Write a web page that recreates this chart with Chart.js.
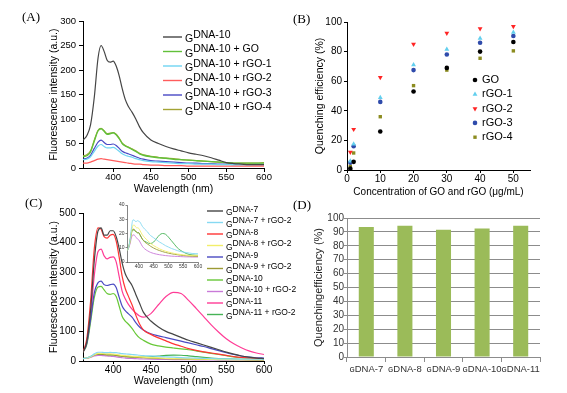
<!DOCTYPE html>
<html lang="en">
<head>
<meta charset="UTF-8">
<title>GDNA fluorescence quenching</title>
<script src="https://cdn.jsdelivr.net/npm/chart.js"></script>
<style>
  body { margin: 0; background: #fff; }
  #wrap { position: relative; width: 567px; height: 393px; overflow: hidden; }
  canvas { position: absolute; }
  .tag { position: absolute; font-family: "Liberation Serif", "Times New Roman", serif; font-size: 13px; color: #000; line-height: 16px; }
</style>
</head>
<body>
<div id="wrap">
  <canvas id="chartA" width="285" height="195" style="left:0px;top:0px"></canvas>
  <canvas id="chartB" width="282" height="198" style="left:285px;top:0px"></canvas>
  <canvas id="chartC" width="300" height="198" style="left:0px;top:195px"></canvas>
  <canvas id="chartD" width="282" height="198" style="left:285px;top:195px"></canvas>
  <canvas id="chartInset" width="100" height="80" style="left:105px;top:198px"></canvas>
  <div class="tag" style="left:22px;top:9px">(A)</div>
  <div class="tag" style="left:293px;top:11px">(B)</div>
  <div class="tag" style="left:25px;top:195px">(C)</div>
  <div class="tag" style="left:293px;top:197px">(D)</div>
</div>

<script>
    // ---- data ----
    var wl = [360, 365, 370, 375, 380, 384, 388, 392, 396, 400, 404, 408, 412, 416, 420, 425, 430, 435, 440, 450, 460, 470, 480, 490, 500, 510, 520, 530, 540, 550, 560, 570, 580, 590, 600];
    var nmTicks = [400, 450, 500, 550, 600];

    // panel A: GDNA-10 with GO / rGO
    var aLabels = ['GDNA-10', 'GDNA-10 + GO', 'GDNA-10 + rGO-1', 'GDNA-10 + rGO-2', 'GDNA-10 + rGO-3', 'GDNA-10 + rGO-4'];
    var aG10 = [57, 66, 88, 145, 225, 250, 238, 220, 216, 218, 208, 188, 162, 140, 126, 114, 100, 84, 72, 57, 50, 44, 39, 35, 31, 28, 25, 21, 16, 11, 9, 8, 7, 7, 7];
    var aGO  = [23, 25, 33, 55, 76, 80, 75, 69, 70, 72, 68, 60, 50, 45, 42, 38, 34, 29, 26, 23, 21, 20, 18, 17, 16, 15, 14, 13, 12, 11, 10, 10, 10, 10, 10];
    var aR1  = [17, 18, 23, 34, 45, 48, 44, 41, 41, 42, 39, 34, 29, 26, 24, 22, 19, 17, 15, 13, 12, 11, 10, 9, 9, 8, 8, 8, 7, 7, 7, 7, 7, 8, 8];
    var aR2  = [10, 10, 12, 15, 18, 19, 18, 17, 16, 15, 14, 13, 12, 11, 10, 9, 8, 8, 7, 6, 6, 5, 5, 5, 4, 4, 4, 4, 4, 4, 4, 4, 4, 4, 4];
    var aR3  = [18, 20, 26, 40, 53, 57, 52, 48, 48, 49, 46, 40, 34, 31, 29, 26, 23, 20, 18, 15, 14, 13, 12, 11, 10, 10, 9, 9, 8, 8, 7, 7, 7, 7, 7];
    var aR4  = [25, 27, 35, 57, 77, 81, 76, 70, 71, 72, 69, 61, 51, 46, 43, 39, 35, 30, 27, 24, 22, 20, 19, 17, 16, 15, 14, 13, 12, 11, 10, 10, 10, 10, 11];
    var aColors = ['#454545', '#62c03a', '#6fd4f2', '#ff5c5c', '#4848c4', '#a3a334'];

    // panel B: quenching efficiency vs concentration
    var bConc = [1, 2, 10, 20, 30, 40, 50];
    var bLabels = ['GO', 'rGO-1', 'rGO-2', 'rGO-3', 'rGO-4'];
    var bGO = [1, 5.5, 26, 53, 69, 80, 86.5];
    var bR1 = [6, 17.5, 49, 71, 81.5, 89, 93];
    var bR2 = [12, 27.5, 62.5, 85, 92.5, 95.5, 97];
    var bR3 = [5, 16, 46, 67.5, 78, 86, 90.5];
    var bR4 = [2.5, 11.5, 36, 57, 67.5, 75.5, 80.5];
    var bColors = ['#000000', '#62cfee', '#ff2424', '#2f4bab', '#8c8c20'];
    var concTicks = [0, 10, 20, 30, 40, 50];

    // panel C: GDNA-7..11 with and without rGO-2
    var cLabels = ['GDNA-7', 'GDNA-7 + rGO-2', 'GDNA-8', 'GDNA-8 + rGO-2', 'GDNA-9', 'GDNA-9 + rGO-2', 'GDNA-10', 'GDNA-10 + rGO-2', 'GDNA-11', 'GDNA-11 + rGO-2'];
    var cG7   = [30, 65, 170, 340, 440, 450, 425, 425, 440, 440, 420, 380, 330, 295, 275, 255, 225, 195, 165, 135, 115, 100, 90, 80, 70, 62, 54, 46, 38, 30, 23, 17, 13, 10, 8];
    var cG7r  = [8, 10, 15, 24, 29.5, 29.5, 28.5, 28.5, 29, 28.5, 28, 26.5, 25, 24, 23, 22, 21, 19.5, 18.5, 17, 15.5, 14, 12.8, 11.5, 10.5, 9.5, 8.8, 8, 7.4, 7, 6.6, 6.3, 6, 5.9, 5.8];
    var cG8   = [30, 75, 200, 380, 450, 445, 420, 415, 425, 428, 405, 350, 285, 245, 220, 190, 155, 125, 105, 90, 78, 68, 58, 50, 42, 36, 31, 27, 23, 19, 15, 12, 10, 9, 8];
    var cG8r  = [8, 10, 14, 21, 25.5, 26, 25, 24, 24, 23.5, 22, 20.5, 19, 18, 17, 16, 15, 14, 13, 11.5, 10.3, 9.2, 8.3, 7.6, 7, 6.5, 6, 5.6, 5.3, 5, 4.8, 4.6, 4.5, 4.5, 4.5];
    var cG9   = [30, 60, 140, 230, 265, 270, 258, 255, 258, 260, 248, 215, 185, 170, 160, 148, 130, 115, 105, 92, 85, 79, 73, 67, 61, 55, 49, 42, 35, 28, 22, 17, 13, 11, 10];
    var cG9r  = [8, 10, 14, 20, 23, 23, 22, 21, 20.5, 20.5, 19, 17.5, 16, 15, 14, 13.2, 12.5, 11.8, 11, 9.8, 8.8, 8, 7.3, 6.7, 6.2, 5.8, 5.4, 5.1, 4.8, 4.6, 4.4, 4.2, 4.1, 4, 4];
    var cG10  = [30, 55, 130, 215, 250, 252, 240, 228, 225, 228, 218, 185, 150, 135, 125, 110, 92, 78, 70, 57, 51, 47, 44, 41, 38, 34, 30, 26, 22, 18, 14, 11, 9, 7, 6];
    var cG10r = [8, 9.5, 12.5, 17, 19, 19, 18, 17, 16, 15.5, 14, 12.5, 11, 10, 9.2, 8.4, 7.8, 7.2, 6.7, 6, 5.5, 5.1, 4.8, 4.5, 4.3, 4.1, 4, 3.9, 3.8, 3.7, 3.6, 3.6, 3.5, 3.5, 3.5];
    var cG11  = [30, 60, 150, 290, 370, 378, 355, 345, 350, 352, 335, 285, 235, 210, 192, 175, 162, 152, 148, 160, 190, 218, 232, 228, 205, 178, 150, 122, 97, 75, 58, 45, 34, 27, 22];
    var cG11r = [8, 10, 15, 21, 22.5, 22.5, 21.5, 21, 20.5, 20.5, 19, 17.5, 16, 15, 14.5, 14, 13.5, 13, 13, 14, 16.5, 19, 20, 19.5, 17.5, 15, 12.5, 10, 8.3, 7, 6, 5.3, 5, 4.8, 4.7];
    var cColors = ['#454545', '#86d9f2', '#ff3434', '#f2ee6a', '#4a4ac2', '#9c9a34', '#68c838', '#c97ad8', '#ff3c96', '#46b356'];

    // panel D: quenching efficiency per probe
    var dCats = ['DNA-7', 'DNA-8', 'DNA-9', 'DNA-10', 'DNA-11'];
    var dQE = [93.5, 94.5, 91.5, 92.5, 94.5];
    var dTicks = [0, 10, 20, 30, 40, 50, 60, 70, 80, 90, 100];

    // ---- helpers ----
    Chart.defaults.font.family = "'Liberation Sans', Arial, sans-serif";
    Chart.defaults.color = '#000';
    Chart.defaults.animation = false;

    function pts(xs, ys) {
        return xs.map(function (x, i) { return { x: x, y: ys[i] }; });
    }
    function fixTicks(list) {
        return function (scale) { scale.ticks = list.map(function (v) { return { value: v }; }); };
    }
    function fixW(w) { return function (s) { s.width = w; }; }
    function fixH(h) { return function (s) { s.height = h; }; }
    function lineSet(label, ys, color, width) {
        return {
            label: label, data: pts(wl, ys), borderColor: color, backgroundColor: color,
            borderWidth: width, pointRadius: 0, fill: false, cubicInterpolationMode: 'monotone'
        };
    }

    // draws the legend rows at fixed spots, with the lowered "G"
    var panelLegend = {
        id: 'panelLegend',
        afterDatasetsDraw: function (chart, args, o) {
            if (!o || o.x === undefined) return;
            var ctx = chart.ctx;
            ctx.save();
            ctx.font = o.font;
            ctx.textBaseline = 'middle';
            chart.data.datasets.forEach(function (ds, i) {
                var y = o.y + i * o.dy;
                if (o.marker) {
                    ctx.fillStyle = ds.backgroundColor;
                    Chart.helpers.drawPoint(ctx, { pointStyle: ds.pointStyle, rotation: ds.rotation || 0, radius: ds.pointRadius, borderWidth: 0 }, o.x, y);
                } else {
                    ctx.strokeStyle = ds.borderColor;
                    ctx.lineWidth = 1.4;
                    ctx.beginPath();
                    ctx.moveTo(o.x, y);
                    ctx.lineTo(o.x + o.len, y);
                    ctx.stroke();
                }
                ctx.fillStyle = '#000';
                var tx = o.x + o.len + o.gap;
                var txt = ds.label;
                if (o.gDrop && txt.charAt(0) === 'G') {
                    ctx.fillText('G', tx, y + o.gDrop);
                    tx += ctx.measureText('G').width;
                    txt = txt.slice(1);
                }
                ctx.fillText(txt, tx, y - (o.rise || 0));
            });
            ctx.restore();
        }
    };
    Chart.register(panelLegend);

    function originAxis(o) {
        return {
            type: 'linear', min: o.min, max: o.max,
            afterFit: o.fit,
            afterBuildTicks: o.ticks ? fixTicks(o.ticks) : undefined,
            border: { display: true, color: '#000', width: 1 },
            grid: { display: true, drawOnChartArea: false, drawTicks: true, tickLength: o.tl, color: '#000' },
            ticks: { stepSize: o.step, padding: o.pad, font: { size: o.fs }, color: '#000' },
            title: { display: !!o.title, text: o.title, font: { size: o.tfs }, padding: o.tpad || 0 }
        };
    }

    // ---- panel A ----
    new Chart(document.getElementById('chartA'), {
        type: 'line',
        data: {
            datasets: [
                lineSet(aLabels[0], aG10, aColors[0], 1.2),
                lineSet(aLabels[1], aGO, aColors[1], 1.4),
                lineSet(aLabels[2], aR1, aColors[2], 1.2),
                lineSet(aLabels[3], aR2, aColors[3], 1.2),
                lineSet(aLabels[4], aR3, aColors[4], 1.2),
                lineSet(aLabels[5], aR4, aColors[5], 1.2)
            ]
        },
        options: {
            responsive: false, devicePixelRatio: 1,
            layout: { padding: { left: 48, top: 21, right: 21, bottom: 0 } },
            plugins: {
                legend: { display: false }, tooltip: { enabled: false },
                panelLegend: { x: 163, y: 37, dy: 14.5, len: 19, gap: 3, font: "10.5px 'Liberation Sans', Arial, sans-serif", gDrop: 2.5, rise: 2 }
            },
            scales: {
                x: originAxis({ min: 360, max: 600, ticks: nmTicks, fit: fixH(27), tl: 4, pad: 0, fs: 9.5, title: 'Wavelength (nm)', tfs: 10.5 }),
                y: originAxis({ min: 0, max: 300, step: 50, fit: fixW(35), tl: 4, pad: 3, fs: 9.5, title: 'Fluorescence intensity (a.u.)', tfs: 10.5 })
            }
        }
    });

    // ---- panel B ----
    var bStyles = [['circle', 0, 2.3], ['triangle', 0, 2.8], ['triangle', 180, 2.8], ['circle', 0, 2.3], ['rect', 0, 2.4]];
    var bSeries = [bGO, bR1, bR2, bR3, bR4];
    new Chart(document.getElementById('chartB'), {
        type: 'scatter',
        data: {
            datasets: bSeries.map(function (ys, i) {
                return {
                    label: bLabels[i], data: pts(bConc, ys),
                    pointStyle: bStyles[i][0], rotation: bStyles[i][1], pointRadius: bStyles[i][2],
                    backgroundColor: bColors[i], borderColor: bColors[i], borderWidth: 0
                };
            })
        },
        options: {
            responsive: false, devicePixelRatio: 1,
            layout: { padding: { left: 29, top: 22, right: 37, bottom: 0 } },
            plugins: {
                legend: { display: false }, tooltip: { enabled: false },
                panelLegend: { x: 190, y: 80, dy: 14.3, len: 0, gap: 7, marker: true, font: "11px 'Liberation Sans', Arial, sans-serif" }
            },
            scales: {
                x: originAxis({ min: 0, max: 55, ticks: concTicks, fit: fixH(28), tl: 3, pad: 0, fs: 10, title: 'Concentration of GO and rGO (\u03bcg/mL)', tfs: 10 }),
                y: originAxis({ min: 0, max: 100, step: 20, fit: fixW(33), tl: 3, pad: 2, fs: 10, title: 'Quenching efficiency (%)', tfs: 10.5 })
            }
        }
    });

    // ---- panel C ----
    var cSeries = [cG7, cG7r, cG8, cG8r, cG9, cG9r, cG10, cG10r, cG11, cG11r];
    new Chart(document.getElementById('chartC'), {
        type: 'line',
        data: { datasets: cSeries.map(function (ys, i) { return lineSet(cLabels[i], ys, cColors[i], 1.2); }) },
        options: {
            responsive: false, devicePixelRatio: 1,
            layout: { padding: { left: 48, top: 18, right: 36, bottom: 0 } },
            plugins: {
                legend: { display: false }, tooltip: { enabled: false },
                panelLegend: { x: 207, y: 16, dy: 11.5, len: 16, gap: 3, font: "8.5px 'Liberation Sans', Arial, sans-serif", gDrop: 2, rise: 1.5 }
            },
            scales: {
                x: originAxis({ min: 360, max: 600, ticks: nmTicks, fit: fixH(32), tl: 3, pad: 0, fs: 10, title: 'Wavelength (nm)', tfs: 10.5, tpad: { top: 0, bottom: 6 } }),
                y: originAxis({ min: 0, max: 500, step: 100, fit: fixW(35), tl: 4, pad: 3, fs: 10, title: 'Fluorescence intensity (a.u.)', tfs: 10.5 })
            }
        }
    });

    // ---- inset of C: only the + rGO-2 curves ----
    var insetIdx = [1, 3, 5, 7, 9];
    new Chart(document.getElementById('chartInset'), {
        type: 'line',
        data: { datasets: insetIdx.map(function (k) { return lineSet(cLabels[k], cSeries[k], cColors[k], 0.9); }) },
        options: {
            responsive: false, devicePixelRatio: 1,
            layout: { padding: { left: 0, top: 7, right: 7, bottom: 0 } },
            plugins: { legend: { display: false }, tooltip: { enabled: false }, panelLegend: false },
            scales: {
                x: {
                    type: 'linear', min: 360, max: 600, afterFit: fixH(16), afterBuildTicks: fixTicks(nmTicks),
                    border: { display: true, color: '#333', width: 0.6 },
                    grid: { display: true, drawOnChartArea: false, tickLength: 2, color: '#333', lineWidth: 0.6 },
                    ticks: { padding: 0, font: { size: 5 }, color: '#333' }
                },
                y: {
                    type: 'linear', min: 0, max: 40, afterFit: fixW(22),
                    border: { display: true, color: '#333', width: 0.6 },
                    grid: { display: true, drawOnChartArea: false, tickLength: 1.5, color: '#333', lineWidth: 0.6 },
                    ticks: { stepSize: 5, padding: 1, font: { size: 5 }, color: '#333' }
                }
            }
        }
    });

    // ---- panel D ----
    new Chart(document.getElementById('chartD'), {
        type: 'bar',
        data: {
            labels: dCats,
            datasets: [{ label: 'Quenching efficiency', data: dQE, backgroundColor: '#9bbb59', barPercentage: 0.39, categoryPercentage: 1 }]
        },
        options: {
            responsive: false, devicePixelRatio: 1,
            layout: { padding: { left: 27, top: 23, right: 27, bottom: 0 } },
            plugins: { legend: { display: false }, tooltip: { enabled: false }, panelLegend: false },
            scales: {
                x: {
                    afterFit: fixH(36),
                    border: { display: true, color: '#8c8c8c', width: 1 },
                    grid: { display: true, drawOnChartArea: false, drawTicks: true, tickLength: 5, color: '#8c8c8c', offset: true },
                    ticks: {
                        padding: 2, font: { size: 9.5 }, color: '#333', maxRotation: 0, minRotation: 0, autoSkip: false,
                        callback: function (v, i) { return '\u0262' + dCats[i]; }
                    }
                },
                y: {
                    type: 'linear', min: 0, max: 100, afterFit: fixW(35),
                    afterBuildTicks: fixTicks(dTicks),
                    border: { display: true, color: '#8c8c8c', width: 1 },
                    grid: { display: true, drawTicks: true, tickLength: 3, color: '#8c8c8c' },
                    ticks: { display: true, autoSkip: false, padding: 0, font: { size: 10 }, color: '#333' },
                    title: { display: true, text: 'Quenchingefficiency (%)', font: { size: 11 }, color: '#222', padding: 0 }
                }
            }
        }
    });
</script>
</body>
</html>
